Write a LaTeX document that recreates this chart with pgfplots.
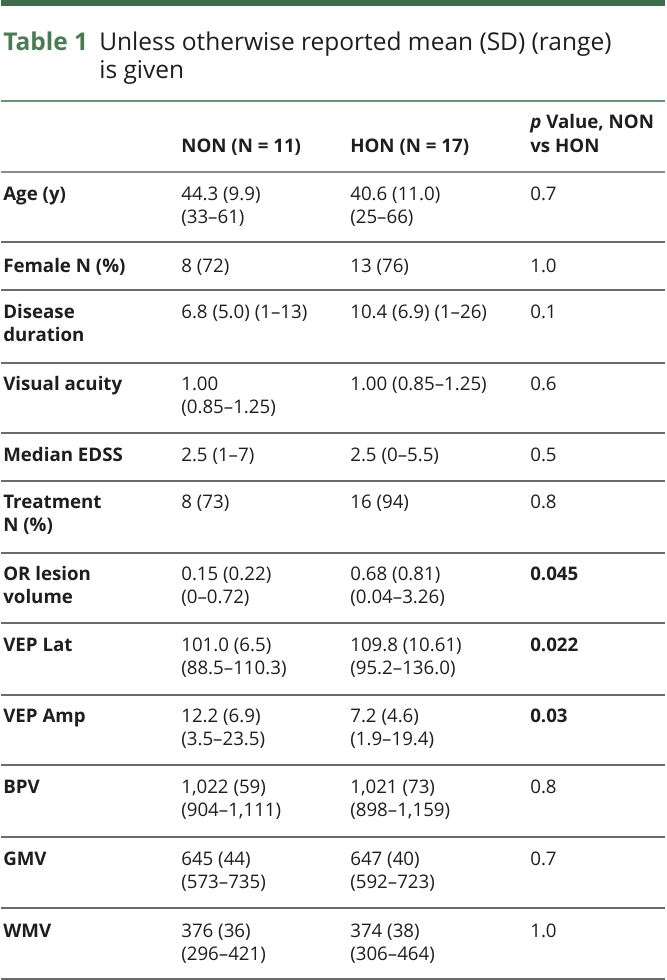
\documentclass[border=0pt]{standalone}
\usepackage{fontspec}
\setmainfont{Open Sans}
\usepackage{pgfplots}
\pgfplotsset{compat=1.18}
\definecolor{topgreen}{HTML}{3F6E4B}
\definecolor{titlegreen}{HTML}{4A7B57}
\definecolor{txt}{HTML}{1E1E1E}
\definecolor{rule}{HTML}{6A6A6A}
\definecolor{hrule}{HTML}{8C8C8C}
\definecolor{grule}{HTML}{6E9277}
\newcommand{\bodyfont}{\fontsize{18.7bp}{23.5bp}\selectfont}
\newcommand{\cell}[3]{\node[anchor=base west, inner sep=0pt, text=txt] at (axis cs:#1,#2) {\bodyfont #3};}
\newcommand{\bcell}[3]{\node[anchor=base west, inner sep=0pt, text=txt] at (axis cs:#1,#2) {\bodyfont\bfseries #3};}
\newcommand{\hrow}[1]{\draw[rule, line width=1.4bp] (axis cs:0,#1) -- (axis cs:664,#1);}
\begin{document}
\begin{tikzpicture}
\begin{axis}[width=664bp, height=980bp, scale only axis,
  xmin=0, xmax=664, ymin=0, ymax=980, y dir=reverse,
  axis lines=none, clip=false]
\path (axis cs:0,0) rectangle (axis cs:664,980);
% top bar
\fill[topgreen] (axis cs:0,0) rectangle (axis cs:664,6);
% title
\node[anchor=base west, inner sep=0pt, text=titlegreen] at (axis cs:2,50) {\fontsize{24.5bp}{28bp}\selectfont\bfseries Table 1};
\node[anchor=base west, inner sep=0pt, text=txt] at (axis cs:98,50) {\fontsize{24.5bp}{28bp}\selectfont Unless otherwise reported mean (SD) (range)};
\node[anchor=base west, inner sep=0pt, text=txt] at (axis cs:98,78) {\fontsize{24.5bp}{28bp}\selectfont is given};
% header
\draw[grule, line width=1.2bp] (axis cs:0,101) -- (axis cs:664,101);
\bcell{180}{152}{NON (N = 11)}
\bcell{349}{152}{HON (N = 17)}
\bcell{529}{128}{\itshape p\upshape\ Value, NON}
\bcell{529}{152}{vs HON}
\draw[hrule, line width=2.2bp] (axis cs:0,172) -- (axis cs:664,172);
% rows
\bcell{2}{200}{Age (y)}
\cell{180}{200}{44.3 (9.9)} \cell{180}{223.5}{(33–61)}
\cell{349}{200}{40.6 (11.0)} \cell{349}{223.5}{(25–66)}
\cell{529}{200}{0.7}
\hrow{242}
\bcell{2}{272}{Female N (\%)}
\cell{180}{272}{8 (72)} \cell{349}{272}{13 (76)} \cell{529}{272}{1.0}
\hrow{290}
\bcell{2}{318}{Disease} \bcell{2}{341.5}{duration}
\cell{180}{318}{6.8 (5.0) (1–13)} \cell{349}{318}{10.4 (6.9) (1–26)} \cell{529}{318}{0.1}
\hrow{363}
\bcell{2}{390}{Visual acuity}
\cell{180}{390}{1.00} \cell{180}{413.5}{(0.85–1.25)}
\cell{349}{390}{1.00 (0.85–1.25)} \cell{529}{390}{0.6}
\hrow{433}
\bcell{2}{461}{Median EDSS}
\cell{180}{461}{2.5 (1–7)} \cell{349}{461}{2.5 (0–5.5)} \cell{529}{461}{0.5}
\hrow{481}
\bcell{2}{508}{Treatment} \bcell{2}{531.5}{N (\%)}
\cell{180}{508}{8 (73)} \cell{349}{508}{16 (94)} \cell{529}{508}{0.8}
\hrow{553}
\bcell{2}{580}{OR lesion} \bcell{2}{603.5}{volume}
\cell{180}{580}{0.15 (0.22)} \cell{180}{603.5}{(0–0.72)}
\cell{349}{580}{0.68 (0.81)} \cell{349}{603.5}{(0.04–3.26)}
\bcell{529}{580}{0.045}
\hrow{623}
\bcell{2}{651}{VEP Lat}
\cell{180}{651}{101.0 (6.5)} \cell{180}{674.5}{(88.5–110.3)}
\cell{349}{651}{109.8 (10.61)} \cell{349}{674.5}{(95.2–136.0)}
\bcell{529}{651}{0.022}
\hrow{695}
\bcell{2}{722}{VEP Amp}
\cell{180}{722}{12.2 (6.9)} \cell{180}{745.5}{(3.5–23.5)}
\cell{349}{722}{7.2 (4.6)} \cell{349}{745.5}{(1.9–19.4)}
\bcell{529}{722}{0.03}
\hrow{765}
\bcell{2}{793}{BPV}
\cell{180}{793}{1,022 (59)} \cell{180}{816.5}{(904–1,111)}
\cell{349}{793}{1,021 (73)} \cell{349}{816.5}{(898–1,159)}
\cell{529}{793}{0.8}
\hrow{837}
\bcell{2}{865}{GMV}
\cell{180}{865}{645 (44)} \cell{180}{888.5}{(573–735)}
\cell{349}{865}{647 (40)} \cell{349}{888.5}{(592–723)}
\cell{529}{865}{0.7}
\hrow{908}
\bcell{2}{937}{WMV}
\cell{180}{937}{376 (36)} \cell{180}{960.5}{(296–421)}
\cell{349}{937}{374 (38)} \cell{349}{960.5}{(306–464)}
\cell{529}{937}{1.0}
\draw[rule, line width=1.4bp] (axis cs:0,979) -- (axis cs:664,979);
\end{axis}
\end{tikzpicture}
\end{document}
